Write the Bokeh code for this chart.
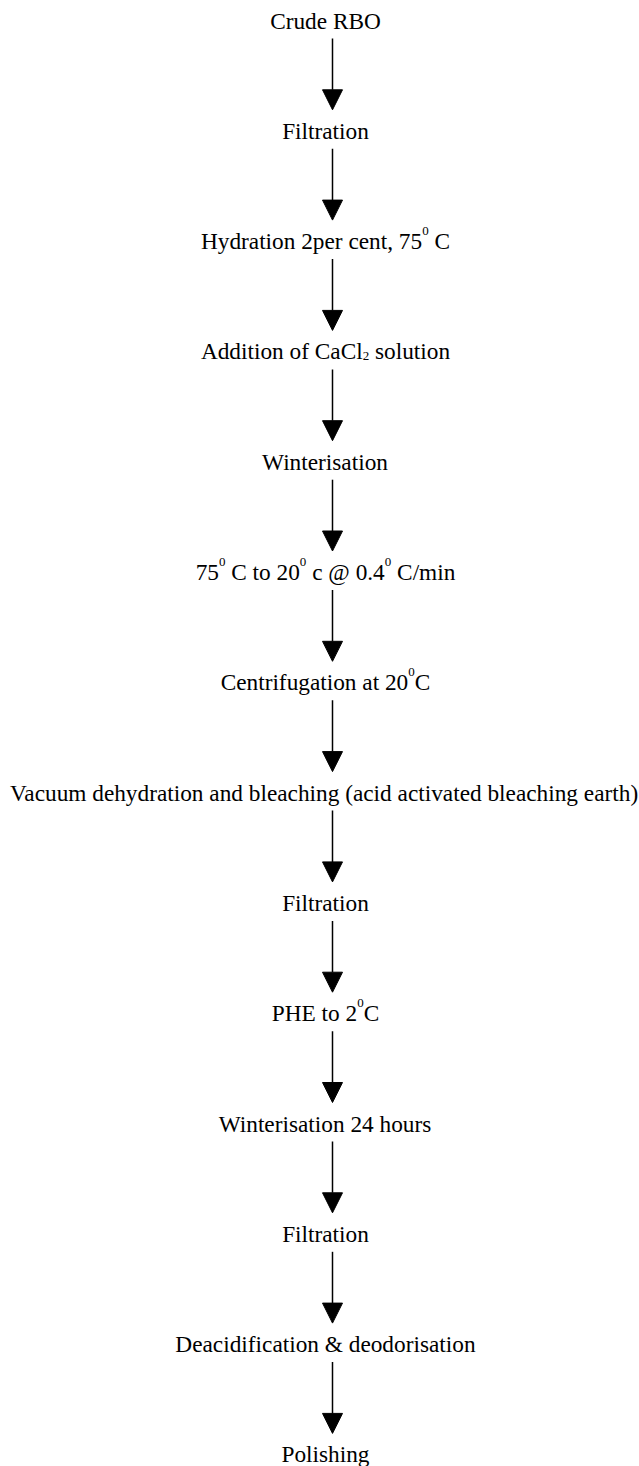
import re
from bokeh.plotting import figure
from bokeh.models import ColumnDataSource, Range1d, Arrow, NormalHead
from bokeh.core.properties import value
from bokeh.embed import file_html
from bokeh.resources import INLINE

# Flow-chart steps (^{..} = superscript, _{..} = subscript)
steps = [
    "Crude RBO",
    "Filtration",
    "Hydration 2per cent, 75^{0} C",
    "Addition of CaCl_{2} solution",
    "Winterisation",
    "75^{0} C to 20^{0} c @ 0.4^{0} C/min",
    "Centrifugation at 20^{0}C",
    "Vacuum dehydration and bleaching (acid activated bleaching earth)",
    "Filtration",
    "PHE to 2^{0}C",
    "Winterisation 24 hours",
    "Filtration",
    "Deacidification & deodorisation",
    "Polishing",
]
order = list(range(len(steps)))

# Times / Liberation Serif advance widths (1/1000 em) for layout of mixed-size text
_w = {' ': 250, '!': 333, '&': 778, '(': 333, ')': 333, ',': 250, '.': 250, '/': 278,
      '@': 921, '%': 833, '-': 333}
for c in '0123456789':
    _w[c] = 500
_w.update(dict(zip('ABCDEFGHIJKLMNOPQRSTUVWXYZ',
                   [722, 667, 667, 722, 611, 556, 722, 722, 333, 389, 722, 611, 889,
                    722, 722, 556, 722, 667, 556, 611, 722, 722, 944, 722, 722, 611])))
_w.update(dict(zip('abcdefghijklmnopqrstuvwxyz',
                   [444, 500, 444, 500, 444, 333, 500, 500, 278, 278, 500, 278, 778,
                    500, 500, 500, 500, 333, 389, 278, 500, 500, 722, 500, 500, 444])))

MAIN_SIZE = 23.3
SMALL_SIZE = 13.0
W, H = 639, 1466
STEP_PX = 110.3
BASE0_PX = 28.0
TEXT_DY = -8.0   # rendered-baseline correction (px, negative = up)
ARROW_X = 332
TEXT_CX = 325


def tw(s, size):
    return sum(_w.get(c, 500) for c in s) / 1000.0 * size


def parse(s):
    segs = []
    for m in re.finditer(r'\^\{([^}]*)\}|_\{([^}]*)\}|([^^_]+)', s):
        if m.group(1) is not None:
            segs.append((m.group(1), 'sup'))
        elif m.group(2) is not None:
            segs.append((m.group(2), 'sub'))
        else:
            segs.append((m.group(3), 'norm'))
    return segs


p = figure(width=W, height=H, output_backend="svg", toolbar_location=None,
           x_range=Range1d(-ARROW_X, W - ARROW_X),
           y_range=Range1d((H - BASE0_PX) / STEP_PX, -BASE0_PX / STEP_PX),
           min_border=0)
p.axis.visible = False
p.grid.visible = False
p.outline_line_color = None
p.background_fill_color = "white"
p.border_fill_color = "white"

big = dict(x=[], y=[], t=[])
small = dict(x=[], y=[], t=[])
for i, s in zip(order, steps):
    segs = parse(s)
    sizes = [MAIN_SIZE if k == 'norm' else SMALL_SIZE for _, k in segs]
    total = sum(tw(t, sz) for (t, _), sz in zip(segs, sizes))
    x = (TEXT_CX - ARROW_X) - total / 2
    for (t, k), sz in zip(segs, sizes):
        if k == 'norm':
            core = t.lstrip(' ')
            x += tw(t[:len(t) - len(core)], sz)
            trail = core[len(core.rstrip(' ')):]
            core = core.rstrip(' ')
            big['x'].append(x); big['y'].append(i + TEXT_DY / STEP_PX); big['t'].append(core)
            x += tw(core, sz) + tw(trail, sz)
        else:
            dy = (-10.0 if k == 'sup' else 5.0) + TEXT_DY
            small['x'].append(x); small['y'].append(i + dy / STEP_PX); small['t'].append(t)
            x += tw(t, sz)

p.text(x="x", y="y", text="t", source=ColumnDataSource(big), text_align="left",
       text_baseline="alphabetic", text_font=value("Liberation Serif"),
       text_font_size=f"{MAIN_SIZE}px", text_color="black")
p.text(x="x", y="y", text="t", source=ColumnDataSource(small), text_align="left",
       text_baseline="alphabetic", text_font=value("Liberation Serif"),
       text_font_size=f"{SMALL_SIZE}px", text_color="black")

n = len(steps) - 1
a_src = ColumnDataSource(dict(
    xs=[0] * n, xe=[0] * n,
    ys=[i + 10 / STEP_PX for i in order[:-1]],
    ye=[i + 1 - 29 / STEP_PX for i in order[:-1]],
))
p.add_layout(Arrow(x_start="xs", y_start="ys", x_end="xe", y_end="ye", source=a_src,
                   line_width=1.5, line_color="black",
                   end=NormalHead(size=20, fill_color="black", line_color="black", line_width=1)))

open("out.html", "w").write(file_html(p, INLINE))
